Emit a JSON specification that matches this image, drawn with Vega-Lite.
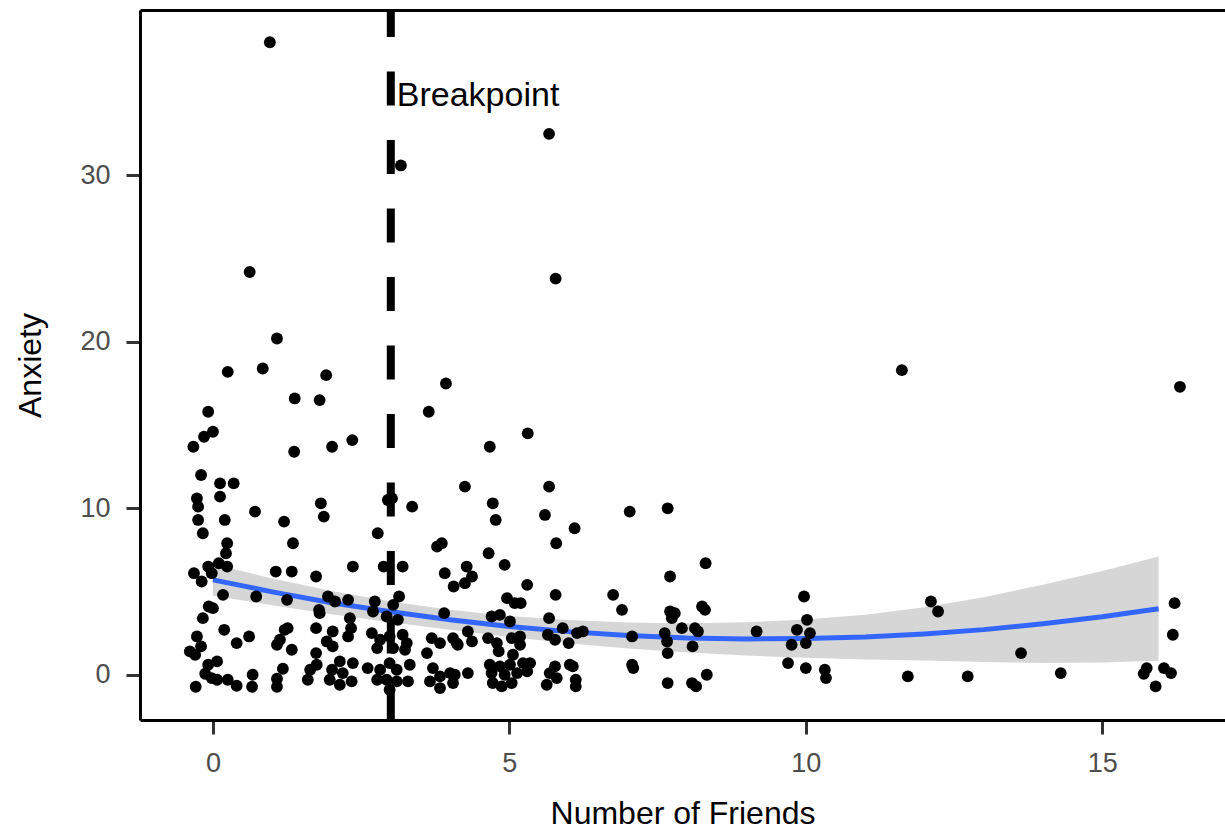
{
"$schema":"https://vega.github.io/schema/vega-lite/v6.json",
"width":1085,"height":710,"autosize":"none",
"padding":{"left":140,"top":10,"right":0,"bottom":117},
"background":"white",
"config":{"view":{"stroke":null},"font":"Liberation Sans",
"axis":{"grid":false,"domainColor":"black","domainWidth":3,"tickColor":"#333333","tickWidth":3,"tickSize":14,"labelColor":"#4D4D4D","labelFontSize":27,"labelFont":"Liberation Sans","titleFont":"Liberation Sans","titleFontSize":32,"titleFontWeight":"normal","titleColor":"black"}},
"datasets":{
"fit":[{"x":0,"fit":5.70,"lo":4.75,"hi":6.65},{"x":1,"fit":4.98,"lo":4.18,"hi":5.78},{"x":2,"fit":4.33,"lo":3.63,"hi":5.03},{"x":3,"fit":3.78,"lo":3.16,"hi":4.40},{"x":4,"fit":3.30,"lo":2.70,"hi":3.90},{"x":5,"fit":2.90,"lo":2.27,"hi":3.53},{"x":6,"fit":2.59,"lo":1.89,"hi":3.29},{"x":7,"fit":2.36,"lo":1.58,"hi":3.14},{"x":8,"fit":2.21,"lo":1.33,"hi":3.09},{"x":9,"fit":2.15,"lo":1.15,"hi":3.15},{"x":10,"fit":2.17,"lo":1.02,"hi":3.32},{"x":11,"fit":2.26,"lo":0.91,"hi":3.61},{"x":12,"fit":2.45,"lo":0.85,"hi":4.05},{"x":13,"fit":2.71,"lo":0.76,"hi":4.66},{"x":14,"fit":3.06,"lo":0.71,"hi":5.41},{"x":15,"fit":3.48,"lo":0.73,"hi":6.23},{"x":15.95,"fit":3.96,"lo":0.84,"hi":7.10}],
"ann":[{"x":3,"y":34.8,"label":"Breakpoint"}],
"pts":[
{"x":0.96,"y":38.0},{"x":5.67,"y":32.5},{"x":3.17,"y":30.6},{"x":0.62,"y":24.2},{"x":5.78,"y":23.8},{"x":1.08,"y":20.2},{"x":0.84,"y":18.4},{"x":0.25,"y":18.2},{"x":1.91,"y":18.0},{"x":3.93,"y":17.5},{"x":1.38,"y":16.6},{"x":1.80,"y":16.5},{"x":-0.08,"y":15.8},{"x":3.64,"y":15.8},{"x":11.62,"y":18.3},{"x":16.31,"y":17.3},{"x":0.0,"y":14.6},{"x":-0.15,"y":14.3},{"x":5.31,"y":14.5},{"x":-0.33,"y":13.7},{"x":2.01,"y":13.7},{"x":2.35,"y":14.1},{"x":1.37,"y":13.4},{"x":4.67,"y":13.7},{"x":-0.20,"y":12.0},{"x":0.12,"y":11.5},{"x":0.35,"y":11.5},{"x":4.25,"y":11.3},{"x":5.67,"y":11.3},{"x":-0.27,"y":10.6},{"x":-0.25,"y":10.1},{"x":0.12,"y":10.7},{"x":2.95,"y":10.5},{"x":3.02,"y":10.6},{"x":3.36,"y":10.1},{"x":1.82,"y":10.3},{"x":1.87,"y":9.5},{"x":4.72,"y":10.3},{"x":7.67,"y":10.0},{"x":7.03,"y":9.8},{"x":0.71,"y":9.8},{"x":-0.25,"y":9.3},{"x":0.20,"y":9.3},{"x":1.20,"y":9.2},{"x":4.77,"y":9.3},{"x":5.60,"y":9.6},{"x":-0.17,"y":8.5},{"x":2.78,"y":8.5},{"x":6.10,"y":8.8},{"x":5.79,"y":7.9},{"x":0.24,"y":7.9},{"x":0.22,"y":7.3},{"x":1.35,"y":7.9},{"x":3.78,"y":7.7},{"x":3.86,"y":7.9},{"x":4.65,"y":7.3},
{"x":0.10,"y":6.7},{"x":0.24,"y":6.5},{"x":-0.08,"y":6.5},{"x":-0.32,"y":6.1},{"x":-0.19,"y":5.6},{"x":-0.02,"y":6.1},{"x":1.06,"y":6.2},{"x":1.33,"y":6.2},{"x":1.74,"y":5.9},{"x":2.36,"y":6.5},{"x":2.88,"y":6.5},{"x":3.20,"y":6.5},{"x":3.91,"y":6.1},{"x":4.06,"y":5.3},{"x":4.92,"y":6.6},{"x":4.28,"y":6.5},{"x":4.37,"y":5.9},{"x":4.25,"y":5.5},{"x":5.30,"y":5.4},{"x":5.78,"y":4.8},{"x":8.31,"y":6.7},{"x":7.71,"y":5.9},{"x":6.75,"y":4.8},{"x":6.90,"y":3.9},{"x":7.71,"y":3.8},{"x":7.79,"y":3.7},{"x":7.74,"y":3.4},{"x":8.25,"y":4.1},{"x":8.30,"y":3.9},{"x":0.17,"y":4.8},{"x":0.73,"y":4.7},{"x":1.25,"y":4.5},{"x":1.94,"y":4.7},{"x":2.06,"y":4.4},{"x":2.28,"y":4.5},{"x":2.73,"y":4.4},{"x":3.04,"y":4.2},{"x":3.14,"y":4.7},{"x":1.79,"y":3.9},{"x":1.80,"y":3.7},{"x":2.70,"y":3.8},{"x":2.93,"y":3.5},{"x":3.12,"y":3.3},{"x":3.90,"y":3.7},{"x":2.31,"y":3.4},{"x":-0.07,"y":4.1},{"x":0.0,"y":4.0},{"x":-0.17,"y":3.4},{"x":4.96,"y":4.6},{"x":5.09,"y":4.3},{"x":5.19,"y":4.3},{"x":4.70,"y":3.5},{"x":4.84,"y":3.6},{"x":5.01,"y":3.2},{"x":5.67,"y":3.4},{"x":9.97,"y":4.7},{"x":10.02,"y":3.3},{"x":12.11,"y":4.4},{"x":12.23,"y":3.8},{"x":16.22,"y":4.3},
{"x":0.19,"y":2.7},{"x":0.61,"y":2.3},{"x":1.21,"y":2.7},{"x":1.26,"y":2.8},{"x":1.13,"y":2.1},{"x":1.08,"y":1.8},{"x":1.33,"y":1.5},{"x":1.74,"y":2.8},{"x":-0.27,"y":2.3},{"x":-0.20,"y":1.7},{"x":-0.39,"y":1.4},{"x":-0.30,"y":1.2},{"x":0.40,"y":1.9},{"x":1.74,"y":1.3},{"x":2.33,"y":2.8},{"x":2.28,"y":2.3},{"x":2.02,"y":2.6},{"x":1.92,"y":2.0},{"x":2.02,"y":1.7},{"x":2.68,"y":2.5},{"x":2.82,"y":2.1},{"x":2.98,"y":2.3},{"x":3.20,"y":2.4},{"x":3.27,"y":1.9},{"x":2.77,"y":1.6},{"x":3.04,"y":1.6},{"x":3.24,"y":1.5},{"x":3.69,"y":2.2},{"x":3.83,"y":1.9},{"x":4.11,"y":1.9},{"x":3.61,"y":1.3},{"x":5.90,"y":2.8},{"x":6.14,"y":2.5},{"x":6.24,"y":2.6},{"x":5.65,"y":2.4},{"x":5.77,"y":2.1},{"x":6.00,"y":1.9},{"x":4.05,"y":2.2},{"x":4.30,"y":2.6},{"x":4.37,"y":2.0},{"x":4.13,"y":1.8},{"x":4.64,"y":2.2},{"x":4.79,"y":1.9},{"x":4.82,"y":1.4},{"x":5.04,"y":2.2},{"x":5.18,"y":2.3},{"x":5.18,"y":1.8},{"x":5.06,"y":1.2},{"x":7.07,"y":2.3},{"x":7.62,"y":2.5},{"x":7.66,"y":2.0},{"x":7.67,"y":1.3},{"x":7.91,"y":2.8},{"x":8.13,"y":2.8},{"x":8.18,"y":2.6},{"x":8.09,"y":1.7},{"x":9.17,"y":2.6},{"x":9.76,"y":1.8},{"x":9.85,"y":2.7},{"x":10.07,"y":2.5},{"x":10.00,"y":1.9},{"x":13.63,"y":1.3},{"x":16.19,"y":2.4},
{"x":-0.08,"y":0.6},{"x":0.07,"y":0.8},{"x":-0.13,"y":0.06},{"x":-0.02,"y":-0.2},{"x":0.07,"y":-0.3},{"x":0.25,"y":-0.3},{"x":0.40,"y":-0.66},{"x":0.67,"y":0.0},{"x":0.66,"y":-0.72},{"x":1.08,"y":-0.24},{"x":1.08,"y":-0.72},{"x":1.18,"y":0.36},{"x":-0.29,"y":-0.72},{"x":1.64,"y":0.3},{"x":1.60,"y":-0.3},{"x":1.75,"y":0.6},{"x":2.14,"y":0.8},{"x":2.36,"y":0.7},{"x":2.01,"y":0.3},{"x":2.19,"y":0.1},{"x":1.97,"y":-0.3},{"x":2.34,"y":-0.4},{"x":2.14,"y":-0.6},{"x":2.61,"y":0.4},{"x":2.82,"y":0.3},{"x":2.98,"y":0.7},{"x":3.10,"y":0.3},{"x":3.32,"y":0.6},{"x":2.77,"y":-0.3},{"x":2.93,"y":-0.3},{"x":3.10,"y":-0.4},{"x":3.29,"y":-0.4},{"x":2.98,"y":-0.9},{"x":3.71,"y":0.4},{"x":3.66,"y":-0.4},{"x":3.83,"y":-0.1},{"x":4.00,"y":0.1},{"x":3.83,"y":-0.8},{"x":4.05,"y":-0.5},{"x":4.67,"y":0.6},{"x":4.84,"y":0.5},{"x":5.01,"y":0.6},{"x":5.23,"y":0.7},{"x":5.35,"y":0.7},{"x":4.70,"y":0.1},{"x":4.92,"y":0.0},{"x":5.13,"y":0.1},{"x":5.30,"y":0.2},{"x":4.72,"y":-0.5},{"x":4.87,"y":-0.7},{"x":5.04,"y":-0.5},{"x":5.68,"y":0.1},{"x":5.77,"y":0.5},{"x":6.02,"y":0.6},{"x":6.07,"y":0.5},{"x":5.63,"y":-0.6},{"x":5.80,"y":-0.2},{"x":6.12,"y":-0.3},{"x":6.12,"y":-0.7},{"x":4.30,"y":0.1},{"x":4.08,"y":0.0},{"x":7.07,"y":0.6},{"x":7.09,"y":0.4},{"x":7.67,"y":-0.5},{"x":8.08,"y":-0.5},{"x":8.15,"y":-0.7},{"x":8.33,"y":0.0},{"x":9.70,"y":0.7},{"x":10.0,"y":0.4},{"x":10.32,"y":0.3},{"x":10.34,"y":-0.2},{"x":11.72,"y":-0.1},{"x":12.73,"y":-0.1},{"x":14.30,"y":0.1},{"x":15.70,"y":0.06},{"x":15.75,"y":0.4},{"x":15.90,"y":-0.7},{"x":16.04,"y":0.4},{"x":16.16,"y":0.1}
]},
"layer":[
{"data":{"name":"fit"},"mark":{"type":"area","color":"#999999","opacity":0.4},
"encoding":{"x":{"field":"x","type":"quantitative","scale":{"domain":[-1.23,17.07],"nice":false,"zero":false},"axis":{"values":[0,5,10,15],"title":"Number of Friends","labelPadding":16,"titlePadding":22}},
"y":{"field":"lo","type":"quantitative","scale":{"domain":[-2.72,39.94],"nice":false,"zero":false},"axis":{"values":[0,10,20,30],"title":"Anxiety","labelPadding":16,"titlePadding":32}},
"y2":{"field":"hi"}}},
{"data":{"name":"fit"},"mark":{"type":"line","color":"#3366FF","strokeWidth":5},
"encoding":{"x":{"field":"x","type":"quantitative","axis":null},"y":{"field":"fit","type":"quantitative","axis":{"values":[0,10,20,30],"title":"Anxiety","labelPadding":16,"titlePadding":32}}}},
{"data":{"name":"ann"},"mark":{"type":"rule","color":"black","strokeWidth":8,"strokeDash":[34,34.5],"strokeDashOffset":7},
"encoding":{"x":{"field":"x","type":"quantitative","axis":null}}},
{"data":{"name":"pts"},"mark":{"type":"circle","color":"black","opacity":1,"size":140},
"encoding":{"x":{"field":"x","type":"quantitative","axis":null},"y":{"field":"y","type":"quantitative","axis":{"values":[0,10,20,30],"title":"Anxiety","labelPadding":16,"titlePadding":32}}}},
{"data":{"name":"ann"},"mark":{"type":"text","color":"black","font":"Liberation Sans","fontSize":34,"align":"left","baseline":"middle","dx":6},
"encoding":{"x":{"field":"x","type":"quantitative","axis":null},"y":{"field":"y","type":"quantitative","axis":{"values":[0,10,20,30],"title":"Anxiety","labelPadding":16,"titlePadding":32}},"text":{"field":"label"}}},
{"data":{"name":"ann"},"mark":{"type":"point","opacity":0},
"encoding":{"x":{"field":"x","type":"quantitative","axis":{"orient":"top","labels":false,"ticks":false,"title":null,"domain":true}}}}
],
"resolve":{"axis":{"x":"independent"}}
}
